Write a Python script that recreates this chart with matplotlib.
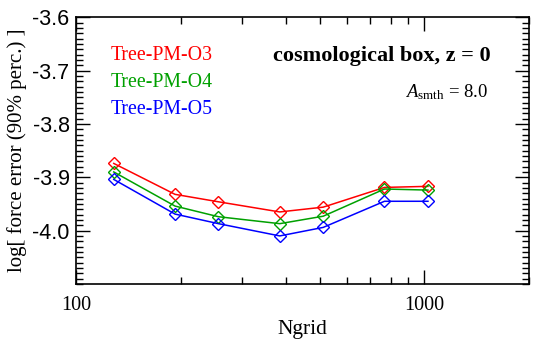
import matplotlib
matplotlib.use("Agg")
import matplotlib.pyplot as plt
from matplotlib.ticker import MultipleLocator, LogLocator, NullFormatter, FixedLocator, FixedFormatter

ngrid = [128, 192, 256, 384, 512, 768, 1024]
err_o3 = [-3.874, -3.932, -3.946, -3.965, -3.956, -3.919, -3.917]
err_o4 = [-3.890, -3.954, -3.974, -3.987, -3.973, -3.922, -3.924]
err_o5 = [-3.904, -3.969, -3.987, -4.010, -3.994, -3.945, -3.945]
labels = ["Tree-PM-O3", "Tree-PM-O4", "Tree-PM-O5"]
colors = ["#ff0000", "#00a000", "#0000ff"]

plt.rcParams['font.family'] = ['Liberation Serif', 'DejaVu Serif']
plt.rcParams['mathtext.fontset'] = 'custom'
plt.rcParams['mathtext.rm'] = 'Liberation Serif'
plt.rcParams['mathtext.it'] = 'Liberation Serif:italic'

fig = plt.figure(figsize=(5.5, 3.54), dpi=100)
ax = fig.add_axes([0.139, 0.198, 0.823, 0.753])

for ys, c in zip([err_o3, err_o4, err_o5], colors):
    ax.plot(ngrid, ys, color=c, lw=1.1, marker='D', ms=6, mfc='none', mec=c, mew=1.0)

ax.set_xscale('log')
ax.set_xlim(100, 2000)
ax.set_ylim(-4.1, -3.6)

ax.xaxis.set_major_locator(FixedLocator([100, 1000]))
ax.xaxis.set_major_formatter(FixedFormatter(["100", "1000"]))
ax.xaxis.set_minor_locator(LogLocator(base=10, subs=range(2, 10), numticks=10))
ax.xaxis.set_minor_formatter(NullFormatter())

ax.yaxis.set_major_locator(MultipleLocator(0.1))
ax.yaxis.set_minor_locator(MultipleLocator(0.01))
ax.set_yticks([-4.0, -3.9, -3.8, -3.7, -3.6])
ax.set_yticklabels(["-4.0", "-3.9", "-3.8", "-3.7", "-3.6"], family='Liberation Sans', fontsize=15.5)
for lab in ax.get_xticklabels():
    lab.set_fontsize(14.5)

ax.tick_params(which='both', direction='in', top=True, right=True, width=1)
ax.tick_params(which='major', length=10)
ax.tick_params(axis='x', which='major', pad=9)
ax.tick_params(axis='y', which='major', pad=5)
ax.tick_params(which='minor', length=5)
for s in ax.spines.values():
    s.set_linewidth(1.2)

ax.set_xlabel("Ngrid", fontsize=15.5, labelpad=3)
ax.set_ylabel("log[ force error (90% perc.) ]", fontsize=15, labelpad=4)

for i, (lab, c) in enumerate(zip(labels, colors)):
    ax.text(0.075, 0.855 - i * 0.1, lab, color=c, fontsize=14.3, transform=ax.transAxes, va='center')

ax.text(0.915, 0.855, "cosmological box, z = 0", fontsize=16, fontweight='bold',
        ha='right', va='center', transform=ax.transAxes)
ax.text(0.91, 0.72, r"$A_{\rm smth}$ = 8.0", fontsize=13.5,
        ha='right', va='center', transform=ax.transAxes)

fig.savefig("out.png", dpi=100)
